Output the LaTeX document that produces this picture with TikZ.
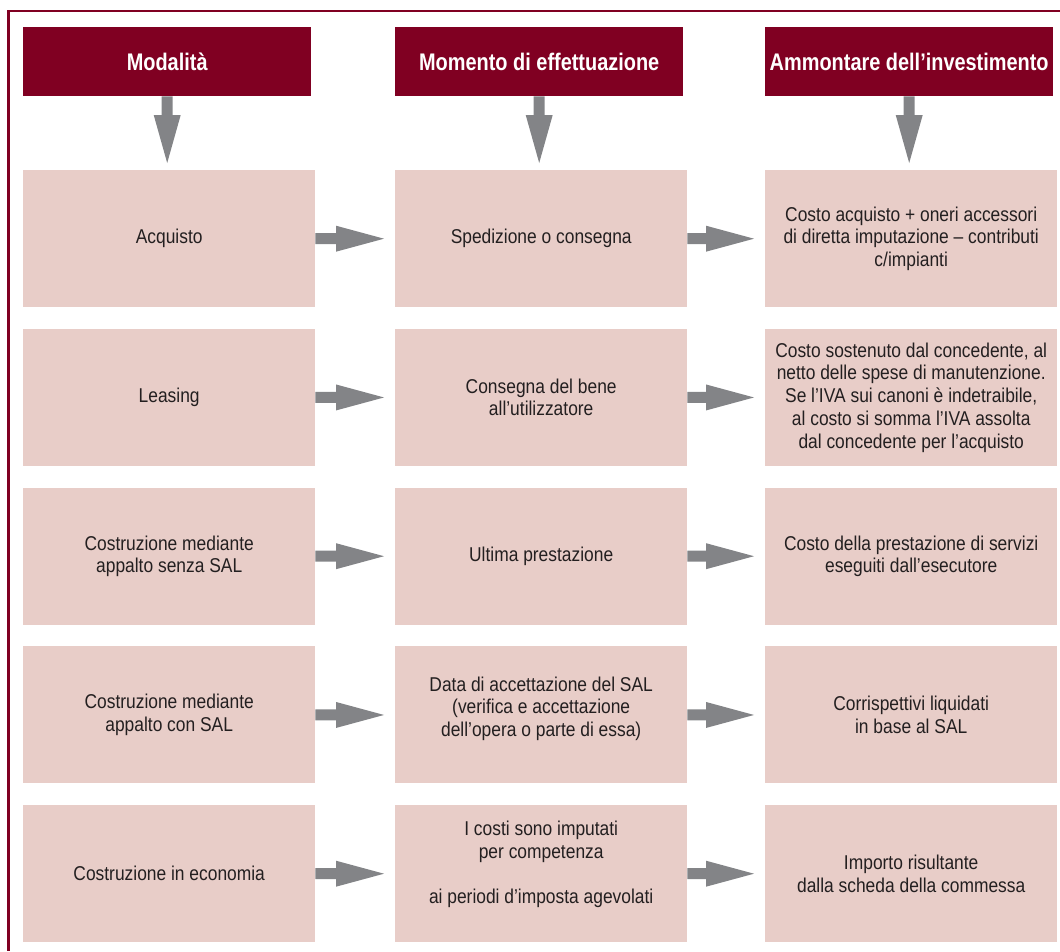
\documentclass[tikz,border=0pt]{standalone}
\usepackage{fontspec}
\setmainfont{Liberation Sans}[FakeStretch=0.87]
\newfontfamily\headfont{Liberation Sans}[FakeStretch=0.83]
\usetikzlibrary{calc}

\definecolor{bordeaux}{HTML}{800022}
\definecolor{cellpink}{HTML}{E8CDC8}
\definecolor{arrowgray}{HTML}{838487}
\definecolor{inkgray}{HTML}{231F20}

\tikzset{
  headbox/.style={fill=bordeaux, text=white, minimum width=288pt, minimum height=69pt,
    inner sep=0pt, anchor=north west, font=\headfont\bfseries\fontsize{24}{28}\selectfont},
  cellbox/.style={fill=cellpink, text=inkgray, minimum width=292pt, minimum height=137pt,
    inner sep=0pt, anchor=north west, align=center, font=\fontsize{20}{22.7}\selectfont},
  frameline/.style={draw=bordeaux, line width=2.5pt},
  arrowfill/.style={fill=arrowgray}
}

% block arrow from the right side of #1 towards the left side of #2
\newcommand\rightconn[2]{%
  \path (#1.east) coordinate (rc-s) (#1.east -| #2.west) coordinate (rc-e);
  \fill[arrowfill] ([yshift=5.5pt]rc-s) -- ([xshift=-59pt,yshift=5.5pt]rc-e)
    -- ([xshift=-59pt,yshift=13pt]rc-e) -- ([xshift=-11pt]rc-e)
    -- ([xshift=-59pt,yshift=-13pt]rc-e) -- ([xshift=-59pt,yshift=-5.5pt]rc-e)
    -- ([yshift=-5.5pt]rc-s) -- cycle;}

% block arrow from the bottom of #1 down towards the top of #2
\newcommand\downconn[2]{%
  \path (#1.south) coordinate (dc-s) (#1.south |- #2.north) coordinate (dc-e);
  \fill[arrowfill] ([xshift=-5.5pt]dc-s) -- ([xshift=-5.5pt,yshift=55pt]dc-e)
    -- ([xshift=-13.5pt,yshift=55pt]dc-e) -- ([yshift=7pt]dc-e)
    -- ([xshift=13.5pt,yshift=55pt]dc-e) -- ([xshift=5.5pt,yshift=55pt]dc-e)
    -- ([xshift=5.5pt]dc-s) -- cycle;}

\begin{document}
\begin{tikzpicture}[x=1pt,y=-1pt]
\useasboundingbox (0,0) rectangle (1060,951);

% open frame: top and left edges
\draw[frameline] (1060,11.2) -- (8.5,11.2) -- (8.5,951);

% column headings
\node[headbox] (h1) at (23,27)  {Modalità};
\node[headbox] (h2) at (395,27) {Momento di effettuazione};
\node[headbox] (h3) at (765,27) {Ammontare dell’investimento};

% row 1
\node[cellbox] (a1) at (23,170)  {Acquisto};
\node[cellbox] (b1) at (395,170) {Spedizione o consegna};
\node[cellbox] (c1) at (765,170) {Costo acquisto + oneri accessori\\di diretta imputazione – contributi\\c/impianti};

% row 2
\node[cellbox] (a2) at (23,328.75)  {Leasing};
\node[cellbox] (b2) at (395,328.75) {Consegna del bene\\all’utilizzatore};
\node[cellbox] (c2) at (765,328.75) {Costo sostenuto dal concedente, al\\netto delle spese di manutenzione.\\Se l’IVA sui canoni è indetraibile,\\al costo si somma l’IVA assolta\\dal concedente per l’acquisto};

% row 3
\node[cellbox] (a3) at (23,487.5)  {Costruzione mediante\\appalto senza SAL};
\node[cellbox] (b3) at (395,487.5) {Ultima prestazione};
\node[cellbox] (c3) at (765,487.5) {Costo della prestazione di servizi\\eseguiti dall’esecutore};

% row 4
\node[cellbox] (a4) at (23,646.25)  {Costruzione mediante\\appalto con SAL};
\node[cellbox] (b4) at (395,646.25) {Data di accettazione del SAL\\(verifica e accettazione\\dell’opera o parte di essa)\\[-6pt]\mbox{}};
\node[cellbox] (c4) at (765,646.25) {Corrispettivi liquidati\\in base al SAL};

% row 5
\node[cellbox] (a5) at (23,805)  {Costruzione in economia};
\node[cellbox] (b5) at (395,805) {I costi sono imputati\\per competenza\\[22.7pt]ai periodi d’imposta agevolati\\\mbox{}};
\node[cellbox] (c5) at (765,805) {Importo risultante\\dalla scheda della commessa};

% connectors
\downconn{h1}{a1}
\downconn{h2}{b1}
\downconn{h3}{c1}
\foreach \r in {1,...,5}{
  \rightconn{a\r}{b\r}
  \rightconn{b\r}{c\r}
}
\end{tikzpicture}
\end{document}
